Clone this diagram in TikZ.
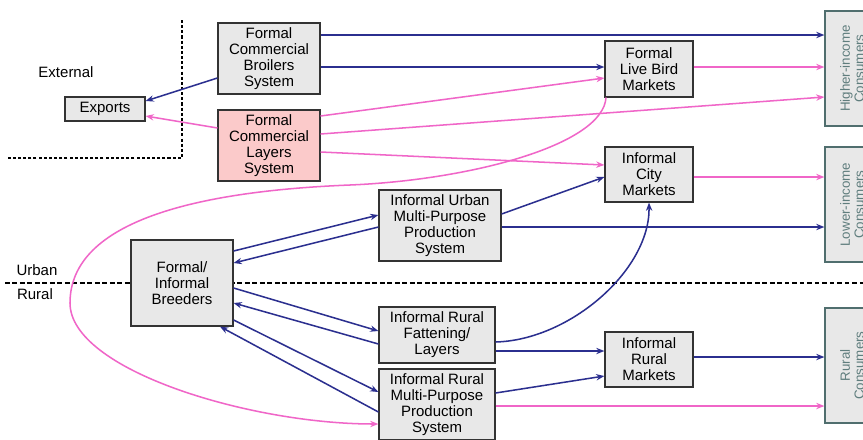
\documentclass[tikz,border=0pt]{standalone}
\usepackage{fontspec}
\setmainfont{Liberation Sans}
\usetikzlibrary{arrows.meta}
\definecolor{flowblue}{RGB}{43,47,143}
\definecolor{flowpink}{RGB}{240,102,200}
\definecolor{boxgray}{RGB}{232,232,232}
\definecolor{boxpink}{RGB}{251,202,202}
\definecolor{consline}{RGB}{80,110,110}
\definecolor{constext}{RGB}{95,125,125}
\tikzset{
  sysbox/.style={draw=black!80, line width=1pt, fill=boxgray, align=center,
    inner sep=0pt, font=\fontsize{12.8}{13.6}\selectfont},
  consbox/.style={draw=consline, line width=1pt, fill=boxgray, align=center,
    inner sep=0pt, minimum width=1.62cm, minimum height=3.45cm},
  constxt/.style={rotate=90, align=center, text=constext,
    font=\fontsize{11.4}{12}\selectfont},
  zonelbl/.style={font=\fontsize{12.8}{13.6}\selectfont},
  blu/.style={draw=flowblue, line width=1.3pt, -{Stealth[length=7pt,width=5.4pt]}},
  pnk/.style={draw=flowpink, line width=1.3pt, -{Stealth[length=7pt,width=5.4pt]}},
  zoneline/.style={line width=1.1pt, dash pattern=on 4pt off 2.4pt}
}
\begin{document}
\begin{tikzpicture}[x=0.03cm, y=-0.03cm]
\clip (0,0) rectangle (863,439);
\fill[white] (0,0) rectangle (863,439);

% zone boundaries
\draw[zoneline] (5,283) -- (863,283);
\draw[line width=1.2pt, dash pattern=on 2.6pt off 1.8pt] (182,20) -- (182,158) -- (8,158);

\node[zonelbl] (lblext) at (66,72) {External};
\node[zonelbl] (lblurb) at (37,270) {Urban};
\node[zonelbl] (lblrur) at (35,294) {Rural};

% production systems and markets
\node[sysbox, minimum width=2.4cm, minimum height=0.72cm] (exports) at (105,109) {Exports};
\node[sysbox, minimum width=3.06cm, minimum height=2.13cm] (broilers) at (269,58.5)
  {Formal\\Commercial\\Broilers\\System};
\node[sysbox, fill=boxpink, minimum width=3.06cm, minimum height=2.13cm] (layers) at (269,145.5)
  {Formal\\Commercial\\Layers\\System};
\node[sysbox, minimum width=2.64cm, minimum height=1.68cm] (livebird) at (649,69)
  {Formal\\Live Bird\\Markets};
\node[sysbox, minimum width=2.64cm, minimum height=1.65cm] (city) at (649,174.5)
  {Informal\\City\\Markets};
\node[sysbox, minimum width=3.66cm, minimum height=2.13cm] (urban) at (440,225.5)
  {Informal Urban\\Multi-Purpose\\Production\\System};
\node[sysbox, minimum width=3.06cm, minimum height=2.58cm] (breeders) at (182,283)
  {Formal/\\Informal\\Breeders};
\node[sysbox, minimum width=3.48cm, minimum height=1.68cm] (fatten) at (437,335)
  {Informal Rural\\Fattening/\\Layers};
\node[sysbox, minimum width=3.48cm, minimum height=2.13cm] (ruralmp) at (437,404.5)
  {Informal Rural\\Multi-Purpose\\Production\\System};
\node[sysbox, minimum width=2.64cm, minimum height=1.65cm] (ruralmk) at (649,359.5)
  {Informal\\Rural\\Markets};

% consumer groups
\node[consbox] (higher) at (852,68.5) {};
\node[constxt] (highertxt) at (higher.center) {Higher-income\\Consumers};
\node[consbox] (lower) at (852,204.5) {};
\node[constxt] (lowertxt) at (lower.center) {Lower-income\\Consumers};
\node[consbox] (rural) at (852,365.5) {};
\node[constxt] (ruraltxt) at (rural.center) {Rural\\Consumers};

% broiler flows
\draw[blu] (broilers.east |- 0,35) -- (higher.west |- 0,35);
\draw[blu] (broilers.east |- 0,67) -- (livebird.west |- 0,67);
\draw[blu] (broilers.west |- 0,78) -- (exports.east |- 0,101);

% layer flows
\draw[pnk] (layers.west |- 0,128) -- (exports.east |- 0,116);
\draw[pnk] (layers.east |- 0,116) -- (livebird.west |- 0,78);
\draw[pnk] (layers.east |- 0,134) -- (higher.west |- 0,97);
\draw[pnk] (layers.east |- 0,152) -- (city.west |- 0,165);

% market outlets
\draw[pnk] (livebird.east |- 0,67) -- (higher.west |- 0,67);
\draw[pnk] (city.east |- 0,177) -- (lower.west |- 0,177);
\draw[blu] (ruralmk.east |- 0,357) -- (rural.west |- 0,357);

% urban multi-purpose system
\draw[blu] (urban.east |- 0,214) -- (city.west |- 0,177);
\draw[blu] (urban.east |- 0,227) -- (lower.west |- 0,227);

% breeders exchange
\draw[blu] (breeders.east |- 0,251) -- (urban.west |- 0,215);
\draw[blu] (urban.west |- 0,227) -- (breeders.east |- 0,263);
\draw[blu] (breeders.east |- 0,288) -- (fatten.west |- 0,331);
\draw[blu] (fatten.west |- 0,344) -- (breeders.east |- 0,303);
\draw[blu] (breeders.east |- 0,320) -- (ruralmp.west |- 0,392);
\draw[blu] (ruralmp.west |- 0,412) -- (breeders.south -| 220,0);

% rural flows
\draw[blu] (fatten.east |- 0,342) .. controls (570,340) and (650,270) .. (city.south);
\draw[blu] (fatten.east |- 0,351) -- (ruralmk.west |- 0,351);
\draw[blu] (ruralmp.east |- 0,393) -- (ruralmk.west |- 0,376);
\draw[pnk] (ruralmp.east |- 0,406) -- (rural.west |- 0,406);

% spent birds looping back to rural production
\draw[pnk] (livebird.south -| 606,0) .. controls (603,145) and (470,180) .. (350,185)
  .. controls (200,191) and (70,220) .. (70,303)
  .. controls (70,370) and (250,424) .. (ruralmp.west |- 0,424);
\end{tikzpicture}
\end{document}
